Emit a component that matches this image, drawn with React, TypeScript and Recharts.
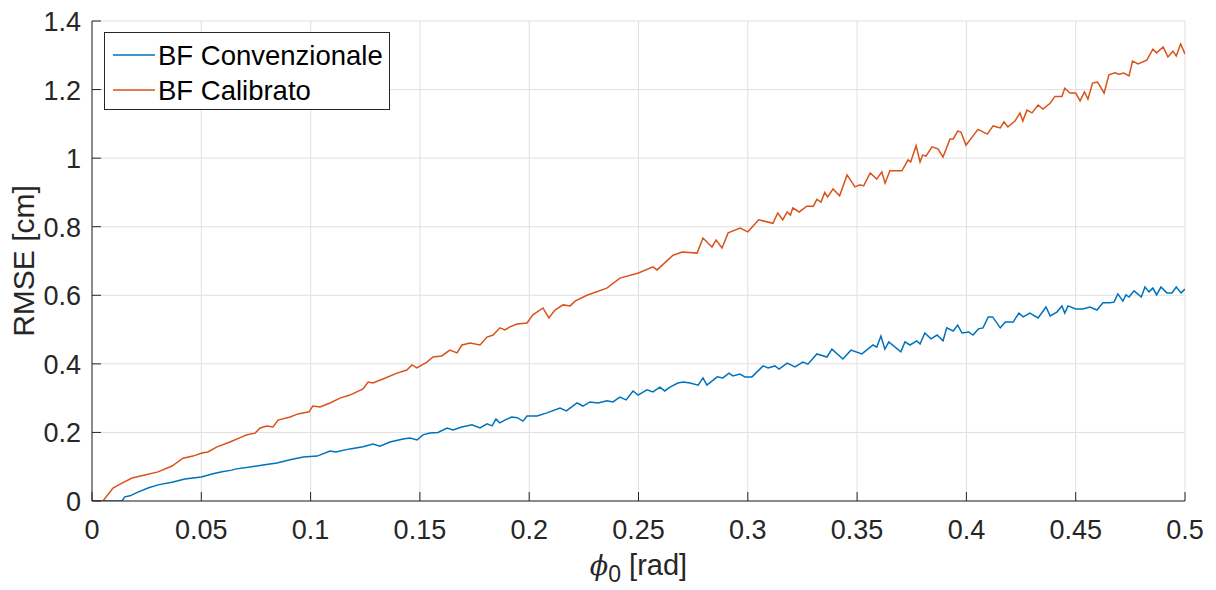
import React from 'react';
import { LineChart, Line, XAxis, YAxis, CartesianGrid, Legend } from 'recharts';

// BF Convenzionale (blue)
const phiConv = [
  0, 0.0137, 0.015, 0.0174, 0.021, 0.0256, 0.0302, 0.0366, 0.0425, 0.05,
  0.0549, 0.0595, 0.064, 0.0654, 0.0723, 0.0782, 0.0846, 0.0906, 0.0966, 0.103,
  0.1089, 0.1115, 0.118, 0.124, 0.1285, 0.1317, 0.1363, 0.1423, 0.1455, 0.1487,
  0.1514, 0.1546, 0.1583, 0.1624, 0.1651, 0.1692, 0.1738, 0.1775, 0.1807, 0.183,
  0.1848, 0.1865, 0.1889, 0.192, 0.1945, 0.1972, 0.199, 0.2036, 0.2081, 0.2141,
  0.217, 0.2219, 0.2246, 0.2278, 0.2315, 0.2356, 0.2383, 0.2415, 0.2443, 0.2475,
  0.2498, 0.2539, 0.2566, 0.2598, 0.262, 0.2644, 0.268, 0.2705, 0.2736, 0.2773,
  0.2795, 0.2813, 0.286, 0.2886, 0.2914, 0.2932, 0.2964, 0.2987, 0.3019, 0.307,
  0.3093, 0.3124, 0.3143, 0.318, 0.3216, 0.3252, 0.3275, 0.3316, 0.3362, 0.3385,
  0.3435, 0.3472, 0.3522, 0.3573, 0.359, 0.3609, 0.3627, 0.3645, 0.37, 0.3719,
  0.3742, 0.3773, 0.3788, 0.381, 0.3838, 0.3866, 0.3893, 0.391, 0.394, 0.396,
  0.398, 0.401, 0.403, 0.4055, 0.4076, 0.41, 0.412, 0.4155, 0.4178, 0.4214,
  0.424, 0.426, 0.429, 0.4328, 0.4364, 0.4383, 0.4414, 0.4437, 0.445, 0.4465,
  0.45, 0.4533, 0.4565, 0.4597, 0.4625, 0.4657, 0.4675, 0.4693, 0.4716, 0.473,
  0.4744, 0.4767, 0.48, 0.4817, 0.4835, 0.4853, 0.487, 0.489, 0.4917, 0.494,
  0.496, 0.4982, 0.5,
];
const rmseConv = [
  0, 0, 0.012, 0.015, 0.026, 0.038, 0.047, 0.055, 0.064, 0.07,
  0.079, 0.085, 0.09, 0.093, 0.099, 0.105, 0.111, 0.12, 0.128, 0.131,
  0.146, 0.143, 0.152, 0.158, 0.166, 0.16, 0.172, 0.181, 0.184, 0.178,
  0.193, 0.198, 0.2, 0.213, 0.207, 0.216, 0.222, 0.213, 0.225, 0.219,
  0.239, 0.228, 0.236, 0.245, 0.243, 0.233, 0.248, 0.248, 0.257, 0.271,
  0.263, 0.286, 0.277, 0.289, 0.286, 0.292, 0.289, 0.303, 0.295, 0.321,
  0.309, 0.324, 0.318, 0.332, 0.321, 0.332, 0.344, 0.347, 0.344, 0.338,
  0.359, 0.338, 0.362, 0.359, 0.373, 0.365, 0.37, 0.362, 0.362, 0.394,
  0.388, 0.394, 0.385, 0.402, 0.391, 0.405, 0.399, 0.429, 0.42, 0.443,
  0.414, 0.44, 0.429, 0.455, 0.449, 0.481, 0.443, 0.464, 0.435, 0.464,
  0.455, 0.467, 0.458, 0.49, 0.473, 0.484, 0.467, 0.505, 0.496, 0.513,
  0.49, 0.493, 0.484, 0.502, 0.505, 0.537, 0.537, 0.505, 0.522, 0.522,
  0.548, 0.537, 0.548, 0.534, 0.566, 0.54, 0.551, 0.569, 0.548, 0.569,
  0.56, 0.56, 0.566, 0.557, 0.578, 0.578, 0.58, 0.604, 0.583, 0.601,
  0.595, 0.613, 0.595, 0.624, 0.61, 0.621, 0.601, 0.624, 0.607, 0.607,
  0.624, 0.607, 0.618,
];

// BF Calibrato (orange)
const phiCal = [
  0, 0.005, 0.0096, 0.0137, 0.0183, 0.0242, 0.0302, 0.0366, 0.0416, 0.0462,
  0.0503, 0.053, 0.0572, 0.0631, 0.0686, 0.0709, 0.0746, 0.0769, 0.08, 0.0828,
  0.0851, 0.0906, 0.0942, 0.0993, 0.101, 0.1043, 0.1089, 0.1134, 0.118, 0.124,
  0.1263, 0.1285, 0.1331, 0.1395, 0.144, 0.1464, 0.1486, 0.1532, 0.156, 0.16,
  0.1637, 0.167, 0.1692, 0.173, 0.1775, 0.1807, 0.1835, 0.1866, 0.1889, 0.1912,
  0.1944, 0.199, 0.2017, 0.2063, 0.209, 0.2118, 0.2155, 0.2187, 0.221, 0.2264,
  0.2355, 0.2415, 0.25, 0.2566, 0.2585, 0.2658, 0.27, 0.2768, 0.2795, 0.2836,
  0.2855, 0.2882, 0.291, 0.2965, 0.3, 0.305, 0.3115, 0.3137, 0.316, 0.318,
  0.3195, 0.3206, 0.3235, 0.327, 0.33, 0.3316, 0.3335, 0.3352, 0.3365, 0.339,
  0.342, 0.3454, 0.349, 0.3513, 0.353, 0.356, 0.359, 0.3613, 0.3628, 0.365,
  0.3705, 0.3733, 0.3745, 0.377, 0.3788, 0.38, 0.3815, 0.3843, 0.387, 0.3893,
  0.3925, 0.394, 0.396, 0.3975, 0.3998, 0.4053, 0.4096, 0.4122, 0.4155, 0.4172,
  0.419, 0.4222, 0.4245, 0.4258, 0.4277, 0.43, 0.4328, 0.435, 0.4383, 0.4405,
  0.4437, 0.445, 0.4474, 0.45, 0.452, 0.454, 0.4556, 0.4577, 0.46, 0.463,
  0.4652, 0.468, 0.4698, 0.472, 0.4744, 0.476, 0.4785, 0.4825, 0.4853, 0.487,
  0.49, 0.4922, 0.4945, 0.496, 0.498, 0.5,
];
const rmseCal = [
  0, 0, 0.038, 0.052, 0.067, 0.076, 0.085, 0.102, 0.125, 0.131,
  0.14, 0.143, 0.158, 0.172, 0.187, 0.193, 0.198, 0.213, 0.219, 0.216,
  0.236, 0.245, 0.254, 0.26, 0.277, 0.274, 0.286, 0.3, 0.309, 0.327,
  0.347, 0.344, 0.356, 0.373, 0.382, 0.397, 0.388, 0.405, 0.42, 0.423,
  0.44, 0.432, 0.455, 0.461, 0.455, 0.478, 0.484, 0.505, 0.499, 0.508,
  0.516, 0.519, 0.543, 0.563, 0.534, 0.557, 0.572, 0.569, 0.583, 0.6,
  0.621, 0.65, 0.665, 0.683, 0.674, 0.717, 0.726, 0.723, 0.767, 0.741,
  0.761, 0.738, 0.782, 0.796, 0.785, 0.82, 0.81, 0.84, 0.82, 0.843,
  0.834, 0.855, 0.843, 0.86, 0.86, 0.88, 0.872, 0.9, 0.887, 0.91,
  0.89, 0.951, 0.916, 0.922, 0.919, 0.957, 0.939, 0.96, 0.927, 0.963,
  0.963, 0.995, 0.989, 1.036, 0.989, 1.009, 1.006, 1.033, 1.027, 1.003,
  1.056, 1.056, 1.079, 1.076, 1.038, 1.084, 1.07, 1.094, 1.088, 1.106,
  1.091, 1.108, 1.132, 1.108, 1.14, 1.132, 1.155, 1.143, 1.16, 1.18,
  1.18, 1.204, 1.19, 1.19, 1.167, 1.193, 1.172, 1.219, 1.222, 1.19,
  1.243, 1.249, 1.245, 1.248, 1.24, 1.283, 1.275, 1.286, 1.318, 1.307,
  1.324, 1.295, 1.312, 1.298, 1.333, 1.304,
];

const xTicks = [0, 0.05, 0.1, 0.15, 0.2, 0.25, 0.3, 0.35, 0.4, 0.45, 0.5];
const yTicks = [0, 0.2, 0.4, 0.6, 0.8, 1, 1.2, 1.4];
const seriesNames = ['BF Convenzionale', 'BF Calibrato'];
const seriesColors = ['#0072BD', '#D95319'];

const convData = phiConv.map((phi, i) => ({ phi, rmse: rmseConv[i] }));
const calData = phiCal.map((phi, i) => ({ phi, rmse: rmseCal[i] }));

const FONT = '"Liberation Sans", Arial, Helvetica, sans-serif';
const AX = '#262626';
const TICK_FS = 27;
const TL = 9;

const BottomTick = (props: any) => {
  const { x, y, payload } = props;
  return (
    <g>
      <line x1={x} x2={x} y1={y} y2={y - TL} stroke={AX} strokeWidth={1} />
      <text x={x} y={y + 38} textAnchor="middle" fontFamily={FONT} fontSize={TICK_FS} fill={AX}>
        {String(payload.value)}
      </text>
    </g>
  );
};
const TopTick = (props: any) => {
  const { x, y } = props;
  return <line x1={x} x2={x} y1={y} y2={y + TL} stroke={AX} strokeWidth={1} />;
};
const LeftTick = (props: any) => {
  const { x, y, payload } = props;
  return (
    <g>
      <line x1={x} x2={x + TL} y1={y} y2={y} stroke={AX} strokeWidth={1} />
      <text x={x - 11} y={y + 10} textAnchor="end" fontFamily={FONT} fontSize={TICK_FS} fill={AX}>
        {String(payload.value)}
      </text>
    </g>
  );
};
const RightTick = (props: any) => {
  const { x, y } = props;
  return <line x1={x} x2={x - TL} y1={y} y2={y} stroke={AX} strokeWidth={1} />;
};

const XLabel = (props: any) => {
  const vb = props.viewBox || {};
  const cx = vb.x + vb.width / 2;
  const by = vb.y + 74;
  return (
    <text x={cx} y={by} textAnchor="middle" fontFamily={FONT} fontSize={29} fill={AX}>
      <tspan fontStyle="italic" fontFamily='"DejaVu Serif", "Liberation Serif", serif' fontSize={27}>ϕ</tspan>
      <tspan dy={7} fontSize={23}>0</tspan>
      <tspan dy={-7}> [rad]</tspan>
    </text>
  );
};
const YLabel = (props: any) => {
  const vb = props.viewBox || {};
  const cx = 26;
  const cy = vb.y + vb.height / 2;
  return (
    <text x={cx} y={cy} textAnchor="middle" transform={`rotate(-90, ${cx}, ${cy})`} fontFamily={FONT} fontSize={30} fill={AX}>
      RMSE [cm]
    </text>
  );
};

const LegendBox = () => {
  return (
    <svg width={286} height={78} style={{ display: 'block' }}>
      <rect x={0.5} y={0.5} width={285} height={77} fill="#fff" stroke={AX} strokeWidth={1} />
      {seriesNames.map((name, i) => {
        const cy = 23 + i * 35;
        return (
          <g key={name}>
            <line x1={9} x2={51} y1={cy} y2={cy} stroke={seriesColors[i]} strokeWidth={1.5} />
            <text x={54} y={cy + 10} fontFamily={FONT} fontSize={27.5} fill="#000">
              {name}
            </text>
          </g>
        );
      })}
    </svg>
  );
};

export default function App() {
  return (
    <div style={{ width: 1200, height: 580, background: '#fff' }}>
      <LineChart width={1200} height={580} margin={{ top: 13, right: 23, bottom: 0, left: 0 }}>
        <CartesianGrid stroke="#dfdfdf" strokeWidth={1} />
        <XAxis
          dataKey="phi"
          type="number"
          domain={[0, 0.5]}
          ticks={xTicks}
          interval={0}
          allowDataOverflow
          height={87}
          tickSize={0}
          tickMargin={0}
          tickLine={false}
          axisLine={{ stroke: AX, strokeWidth: 1 }}
          tick={<BottomTick />}
          label={<XLabel />}
        />
        <XAxis
          xAxisId="top"
          orientation="top"
          dataKey="phi"
          type="number"
          domain={[0, 0.5]}
          ticks={xTicks}
          interval={0}
          allowDataOverflow
          height={0}
          tickSize={0}
          tickMargin={0}
          tickLine={false}
          axisLine={{ stroke: AX, strokeWidth: 1 }}
          tick={<TopTick />}
        />
        <YAxis
          type="number"
          domain={[0, 1.4]}
          ticks={yTicks}
          interval={0}
          allowDataOverflow
          width={84}
          tickSize={0}
          tickMargin={0}
          tickLine={false}
          axisLine={{ stroke: AX, strokeWidth: 1 }}
          tick={<LeftTick />}
          label={<YLabel />}
        />
        <YAxis
          yAxisId="right"
          orientation="right"
          type="number"
          domain={[0, 1.4]}
          ticks={yTicks}
          interval={0}
          allowDataOverflow
          width={0}
          tickSize={0}
          tickMargin={0}
          tickLine={false}
          axisLine={{ stroke: AX, strokeWidth: 1 }}
          tick={<RightTick />}
        />
        <Legend
          layout="vertical"
          align="center"
          verticalAlign="middle"
          content={<LegendBox />}
          wrapperStyle={{ position: 'absolute', left: 96, top: 24, width: 286, height: 78 }}
        />
        <Line
          data={convData}
          dataKey="rmse"
          name={seriesNames[0]}
          stroke={seriesColors[0]}
          strokeWidth={1.5}
          dot={false}
          activeDot={false}
          type="linear"
          isAnimationActive={false}
        />
        <Line
          data={calData}
          dataKey="rmse"
          name={seriesNames[1]}
          stroke={seriesColors[1]}
          strokeWidth={1.5}
          dot={false}
          activeDot={false}
          type="linear"
          isAnimationActive={false}
        />
      </LineChart>
    </div>
  );
}
